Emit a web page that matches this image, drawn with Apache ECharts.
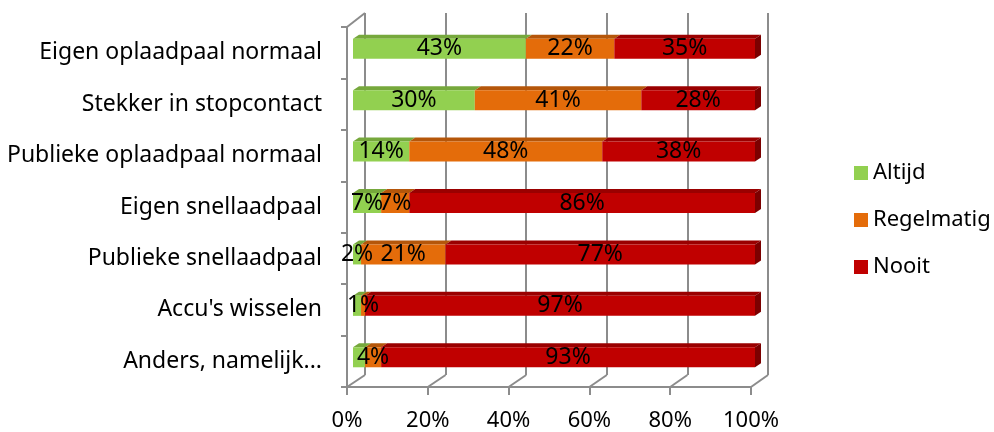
<!DOCTYPE html>
<html>
<head>
<meta charset="utf-8">
<script src="https://cdn.jsdelivr.net/npm/echarts@6/dist/echarts.min.js"></script>
<style>
  html, body { margin: 0; padding: 0; background: #fff; }
  #chart { width: 994px; height: 432px; }
</style>
</head>
<body>
<div id="chart"></div>
<script>
// gegevens
var categories = ['Eigen oplaadpaal normaal', 'Stekker in stopcontact', 'Publieke oplaadpaal normaal',
  'Eigen snellaadpaal', 'Publieke snellaadpaal', "Accu's wisselen", 'Anders, namelijk...'];
var seriesNames = ['Altijd', 'Regelmatig', 'Nooit'];
var altijd = [43, 30, 14, 7, 2, 2, 3];
var regelmatig = [22, 41, 48, 7, 21, 1, 4];
var nooit = [35, 28, 38, 86, 77, 97, 93];
var altijdLabel = [true, true, true, true, true, false, false];
var xTicks = [0, 20, 40, 60, 80, 100];

var colors = ['#92d050', '#e46c0a', '#c00000'];
var topColors = ['#76a83c', '#b5560a', '#9a0000'];
var sideColor = '#7c0000';
var gridColor = '#8c8c8c';
var FONT = 'Noto Sans';

// opmaak (3D-achtige wanden)
var BACK = { left: 365, top: 13, width: 403, height: 362 };
var FRONT = { left: 347, top: 27, width: 404, height: 360 };
var BARS = { left: 353, top: 23, width: 402, height: 360 };
var DX = 6, DY = 4, BAR_W = 20;

var raw = [altijd, regelmatig, nooit];
var totals = categories.map(function (c, i) { return altijd[i] + regelmatig[i] + nooit[i]; });

function gridOf(g) {
  return { left: g.left, top: g.top, width: g.width, height: g.height, containLabel: false };
}

var barSeries = raw.map(function (arr, k) {
  return {
    name: seriesNames[k],
    type: 'bar',
    stack: 'totaal',
    xAxisIndex: 2,
    yAxisIndex: 2,
    barWidth: BAR_W,
    itemStyle: { color: colors[k] },
    label: {
      show: true,
      position: 'inside',
      color: '#000',
      fontFamily: FONT,
      fontSize: 23,
      formatter: function (p) { return p.data.raw + '%'; }
    },
    data: arr.map(function (v, i) {
      var d = { value: v / totals[i] * 100, raw: v };
      if (k === 0 && !altijdLabel[i]) d.label = { show: false };
      return d;
    })
  };
});

// boven- en zijvlakken
var faceData = [];
categories.forEach(function (c, i) {
  var start = 0;
  raw.forEach(function (arr, k) {
    var end = start + arr[i] / totals[i] * 100;
    faceData.push([i, start, end, k]);
    start = end;
  });
});

function renderFaces(params, api) {
  var c = api.value(0), s = api.value(1), e = api.value(2), k = api.value(3);
  var p0 = api.coord([s, c]);
  var p1 = api.coord([e, c]);
  var yTop = p0[1] - BAR_W / 2, yBot = p0[1] + BAR_W / 2;
  var children = [{
    type: 'polygon',
    shape: { points: [[p0[0], yTop], [p1[0], yTop], [p1[0] + DX, yTop - DY], [p0[0] + DX, yTop - DY]] },
    style: { fill: topColors[k] }
  }];
  if (k === 2) {
    children.push({
      type: 'polygon',
      shape: { points: [[p1[0], yTop], [p1[0] + DX, yTop - DY], [p1[0] + DX, yBot - DY], [p1[0], yBot]] },
      style: { fill: sideColor }
    });
  }
  return { type: 'group', children: children };
}

var lineStyle = { color: gridColor, width: 2 };

// vloer en zijwand diagonalen
var graphics = xTicks.map(function (v) {
  return {
    type: 'line',
    shape: {
      x1: FRONT.left + v / 100 * FRONT.width, y1: FRONT.top + FRONT.height,
      x2: BACK.left + v / 100 * BACK.width, y2: BACK.top + BACK.height
    },
    style: { stroke: gridColor, lineWidth: 2 }
  };
});
graphics.push({
  type: 'line',
  shape: { x1: FRONT.left, y1: FRONT.top, x2: BACK.left, y2: BACK.top },
  style: { stroke: gridColor, lineWidth: 2 }
});

var chart = echarts.init(document.getElementById('chart'));
chart.setOption({
  animation: false,
  textStyle: { fontFamily: FONT },
  grid: [gridOf(BACK), gridOf(FRONT), gridOf(BARS)],
  legend: {
    data: seriesNames,
    orient: 'vertical',
    left: 849,
    top: 157,
    itemWidth: 14,
    itemHeight: 14,
    itemGap: 25,
    icon: 'rect',
    textStyle: { fontFamily: FONT, fontSize: 22, color: '#000', lineHeight: 22 }
  },
  xAxis: [
    {
      gridIndex: 0, type: 'value', min: 0, max: 100, interval: 20,
      axisLine: { show: false }, axisTick: { show: false }, axisLabel: { show: false },
      splitLine: { show: true, showMinLine: true, showMaxLine: true, lineStyle: lineStyle }
    },
    {
      gridIndex: 1, type: 'value', min: 0, max: 100, interval: 20,
      axisLine: { show: true, lineStyle: lineStyle },
      axisTick: { show: true, length: 8, lineStyle: lineStyle },
      splitLine: { show: false },
      axisLabel: { color: '#000', fontFamily: FONT, fontSize: 22, margin: 23, formatter: '{value}%' }
    },
    { gridIndex: 2, type: 'value', min: 0, max: 100, show: false }
  ],
  yAxis: [
    { gridIndex: 0, type: 'category', data: categories, inverse: true, show: false },
    {
      gridIndex: 1, type: 'category', data: categories, inverse: true,
      axisLine: { show: true, lineStyle: lineStyle },
      axisTick: { show: true, length: 6, lineStyle: lineStyle },
      axisLabel: { color: '#000', fontFamily: FONT, fontSize: 23, margin: 25, padding: [6, 0, 0, 0] }
    },
    { gridIndex: 2, type: 'category', data: categories, inverse: true, show: false }
  ],
  graphic: graphics,
  series: barSeries.concat([{
    type: 'custom',
    xAxisIndex: 2,
    yAxisIndex: 2,
    renderItem: renderFaces,
    data: faceData,
    silent: true,
    z: 1
  }])
});
</script>
</body>
</html>
